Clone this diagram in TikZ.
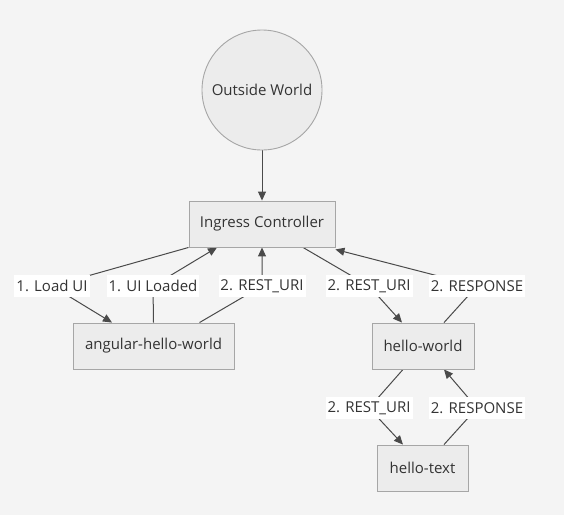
\documentclass[tikz,border=0pt]{standalone}
\usepackage{fontspec}
\setmainfont{Open Sans}
\usetikzlibrary{arrows.meta,calc}
\definecolor{bgc}{HTML}{F4F4F4}
\definecolor{nodefill}{HTML}{ECECEC}
\definecolor{nodeline}{HTML}{A6A6A6}
\definecolor{linec}{HTML}{4A4A4A}
\definecolor{txt}{HTML}{333333}
\pgfdeclarelayer{bglayer}
\pgfdeclarelayer{edgelayer}
\pgfsetlayers{bglayer,edgelayer,main}
\tikzset{
  box/.style={draw=nodeline, fill=nodefill, line width=0.9pt, minimum height=46, inner sep=0pt, text=txt, font=\fontsize{15}{18}\selectfont},
  circ/.style={circle, draw=nodeline, fill=nodefill, line width=0.9pt, minimum size=120, inner sep=0pt, text=txt, font=\fontsize{15}{18}\selectfont},
  lbl/.style={fill=white, text=txt, inner xsep=2, inner ysep=0, minimum height=22, font=\fontsize{15}{18}\selectfont},
  edge/.style={draw=linec, line width=1pt, -{Triangle[length=9,width=8]}},
}
\begin{document}
\begin{tikzpicture}[x=1pt,y=-1pt]
\begin{pgfonlayer}{bglayer}
\fill[bgc] (0,0) rectangle (564,515);
\end{pgfonlayer}
\useasboundingbox (0,0) rectangle (564,515);

\node[circ] (ow) at (262,90) {Outside World};
\node[box, minimum width=146] (ing) at (262,224) {Ingress Controller};
\node[box, minimum width=161] (ang) at (153.5,346) {angular-hello-world};
\node[box, minimum width=102] (hw) at (423,346) {hello-world};
\node[box, minimum width=91] (ht) at (422.5,468) {hello-text};

\node[lbl] (l1) at (52,286) {1. Load UI};
\node[lbl] (l2) at (153,286) {1. UI Loaded};
\node[lbl] (l3) at (262,286) {2. REST\_URI};
\node[lbl] (l4) at (369,286) {2. REST\_URI};
\node[lbl] (l5) at (477,286) {2. RESPONSE};
\node[lbl] (l6) at (369,408) {2. REST\_URI};
\node[lbl] (l7) at (477,408) {2. RESPONSE};

\begin{pgfonlayer}{edgelayer}
\draw[edge] (ow.south) -- (ing.north);
\draw[edge] (ing.south west) -- (l1.center) -- ([xshift=-41.5]ang.north);
\draw[edge] (ang.north) -- (l2.center) -- ([xshift=-45]ing.south);
\draw[edge] ([xshift=46]ang.north) -- (l3.center) -- (ing.south);
\draw[edge] ([xshift=41]ing.south) -- (l4.center) -- ([xshift=-21]hw.north);
\draw[edge] ([xshift=21]hw.north) -- (l5.center) -- ([yshift=-2]ing.south east);
\draw[edge] ([xshift=-20]hw.south) -- (l6.center) -- ([xshift=-19.5]ht.north);
\draw[edge] ([xshift=21.5]ht.north) -- (l7.center) -- ([xshift=21]hw.south);
\end{pgfonlayer}
\end{tikzpicture}
\end{document}
